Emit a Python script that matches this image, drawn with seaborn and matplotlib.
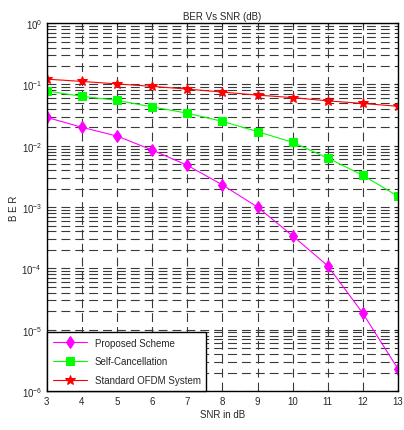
import pandas as pd
import matplotlib.pyplot as plt
import seaborn as sns

snr = [3, 4, 5, 6, 7, 8, 9, 10, 11, 12, 13]
proposed = [0.029, 0.020, 0.0144, 0.0085, 0.0048, 0.0023, 0.001, 3.4e-4, 1.1e-4, 1.85e-5, 2.3e-6]
self_canc = [0.078, 0.064, 0.055, 0.043, 0.034, 0.025, 0.017, 0.0114, 0.0063, 0.0033, 0.0015]
standard = [0.122, 0.112, 0.102, 0.093, 0.084, 0.075, 0.067, 0.061, 0.054, 0.049, 0.044]

series = ["Proposed Scheme", "Self-Cancellation", "Standard OFDM System"]
colors = ["#ff00ff", "#00ff00", "#ff0000"]
markers = ["d", "s", "*"]

sns.set_style("white")
plt.rcParams["font.family"] = ["Liberation Sans", "DejaVu Sans"]
plt.rcParams["font.size"] = 7


def main():
    df = pd.DataFrame({
        "SNR": snr * 3,
        "BER": proposed + self_canc + standard,
        "Scheme": [s for s in series for _ in snr],
    })

    fig = plt.figure(figsize=(4.04, 4.31), dpi=100)
    ax = fig.add_axes([0.116, 0.0905, 0.869, 0.8535])

    for name, c, m in zip(series, colors, markers):
        sub = df[df["Scheme"] == name]
        ms = 7.5 if m == "*" else 6
        sns.lineplot(data=sub, x="SNR", y="BER", color=c, marker=m, markersize=ms,
                     markeredgecolor=c, linewidth=0.8, label=name, ax=ax)

    ax.set_yscale("log")
    ax.set_xlim(3, 13)
    ax.set_ylim(1e-6, 1)
    ax.set_xticks(snr)

    # MATLAB-like dashed major + minor grid
    dash = (0, (8, 4.5))
    ax.grid(True, which="major", linestyle=dash, color="#3a3a3a", linewidth=0.8)
    ax.grid(True, which="minor", axis="y", linestyle=dash, color="#3a3a3a", linewidth=0.8)
    for s in ax.spines.values():
        s.set_color("black")
        s.set_linewidth(1.0)
    ax.tick_params(which="both", direction="in", top=True, right=True, labelsize=7)
    ax.tick_params(which="major", length=3)
    ax.tick_params(which="minor", length=2)

    ax.set_title("BER Vs SNR (dB)", fontsize=7, pad=3)
    ax.set_xlabel("SNR in dB", fontsize=7, labelpad=2)
    ax.set_ylabel("B E R", fontsize=7, labelpad=2)

    leg = ax.legend(loc="lower left", fontsize=7, fancybox=False, framealpha=1,
                    edgecolor="black", borderaxespad=0.0, handlelength=3.5,
                    labelspacing=0.9, borderpad=0.6)
    leg.get_frame().set_linewidth(1.0)

    fig.savefig("out.png", dpi=100)


if __name__ == "__main__":
    main()
